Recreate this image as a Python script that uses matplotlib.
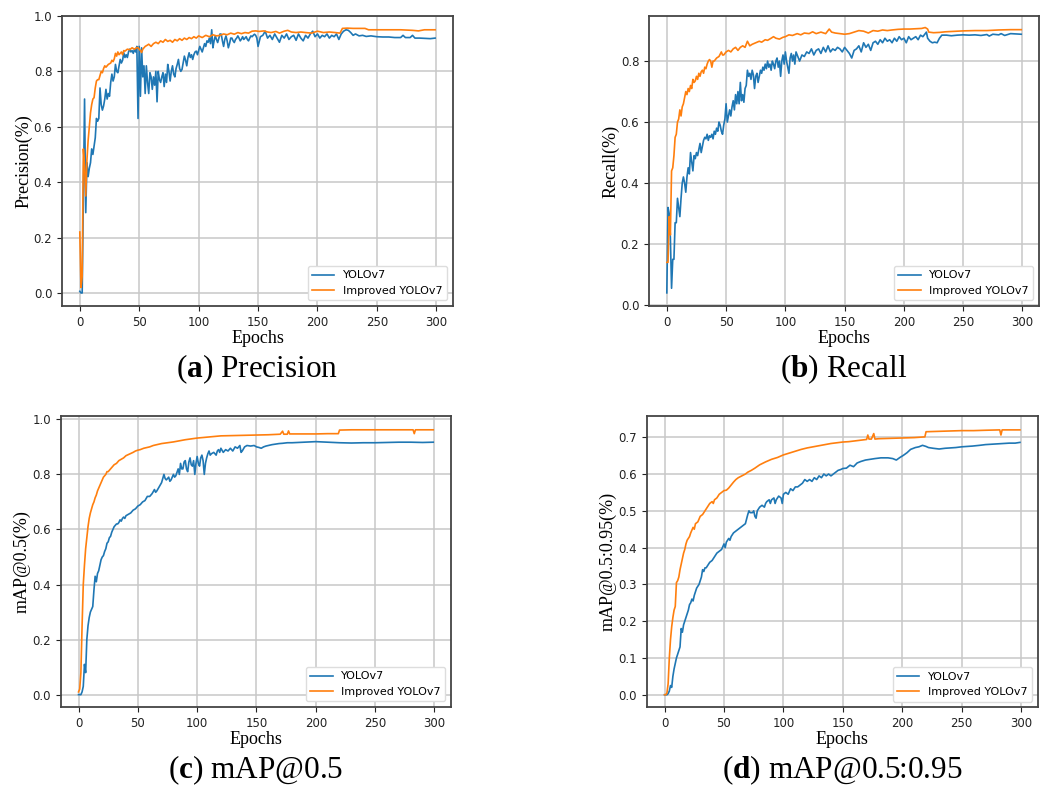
import matplotlib
matplotlib.use("Agg")
import matplotlib.pyplot as plt

plt.rcParams["mathtext.fontset"] = "custom"
plt.rcParams["mathtext.rm"] = "Liberation Serif"
plt.rcParams["mathtext.bf"] = "Liberation Serif:bold"

BLUE = "#1f77b4"
ORANGE = "#ff7f0e"
SERIF = "Liberation Serif"

# (epoch, value) pairs for each training curve
prec_v7 = [
    (0, 0.006), (1, 0.0), (2, 0.0), (3, 0.35), (4, 0.70), (5, 0.29), (6, 0.47), (7, 0.42), (8, 0.45), (9, 0.47),
    (10, 0.52), (11, 0.50), (12, 0.53), (13, 0.56), (14, 0.63), (15, 0.62), (16, 0.63), (17, 0.74), (18, 0.68),
    (19, 0.66), (20, 0.675), (21, 0.70), (22, 0.735), (23, 0.70), (24, 0.72), (25, 0.71), (26, 0.76), (27, 0.79),
    (28, 0.765), (29, 0.78), (30, 0.825), (31, 0.80), (32, 0.795), (33, 0.82), (34, 0.843), (35, 0.83), (36, 0.84),
    (37, 0.867), (38, 0.85), (39, 0.86), (40, 0.85), (41, 0.87), (42, 0.88), (43, 0.87), (44, 0.875), (45, 0.865),
    (46, 0.88), (47, 0.87), (48, 0.89), (49, 0.63), (50, 0.89), (51, 0.71), (52, 0.885), (53, 0.78), (54, 0.82),
    (55, 0.72), (56, 0.82), (57, 0.76), (58, 0.72), (59, 0.795), (60, 0.78), (61, 0.735), (62, 0.78), (63, 0.75),
    (64, 0.80), (65, 0.69), (66, 0.80), (67, 0.77), (68, 0.76), (69, 0.78), (70, 0.795), (71, 0.745), (72, 0.79),
    (73, 0.76), (74, 0.825), (75, 0.80), (76, 0.765), (77, 0.80), (78, 0.82), (79, 0.79), (80, 0.78), (81, 0.81),
    (82, 0.825), (83, 0.843), (84, 0.81), (85, 0.80), (86, 0.807), (87, 0.83), (88, 0.855), (89, 0.84), (90, 0.82),
    (91, 0.85), (92, 0.867), (93, 0.85), (94, 0.86), (95, 0.843), (96, 0.86), (97, 0.87), (98, 0.873), (99, 0.86),
    (100, 0.875), (101, 0.89), (102, 0.88), (103, 0.87), (104, 0.885), (105, 0.90), (106, 0.89), (107, 0.91),
    (108, 0.905), (109, 0.92), (110, 0.90), (111, 0.95), (112, 0.885), (113, 0.91), (114, 0.928), (115, 0.915),
    (116, 0.904), (117, 0.92), (118, 0.935), (119, 0.934), (120, 0.91), (121, 0.89), (122, 0.915), (123, 0.928),
    (124, 0.91), (125, 0.885), (126, 0.90), (127, 0.92), (128, 0.92), (129, 0.91), (130, 0.904), (131, 0.915),
    (132, 0.92), (133, 0.928), (134, 0.92), (135, 0.91), (136, 0.916), (137, 0.925), (138, 0.915), (139, 0.92),
    (140, 0.925), (141, 0.915), (142, 0.91), (143, 0.92), (144, 0.928), (145, 0.925), (146, 0.93), (147, 0.934),
    (148, 0.93), (149, 0.92), (150, 0.89), (152, 0.925), (154, 0.93), (156, 0.945), (158, 0.92), (160, 0.93),
    (162, 0.915), (164, 0.935), (166, 0.92), (168, 0.905), (170, 0.93), (172, 0.92), (174, 0.935), (176, 0.915),
    (178, 0.925), (180, 0.93), (182, 0.912), (184, 0.935), (186, 0.92), (188, 0.91), (190, 0.93), (192, 0.92),
    (194, 0.935), (196, 0.945), (198, 0.925), (200, 0.935), (202, 0.92), (204, 0.93), (206, 0.925), (208, 0.935),
    (210, 0.92), (212, 0.93), (214, 0.925), (216, 0.935), (218, 0.915), (220, 0.935), (222, 0.945), (224, 0.95),
    (226, 0.948), (228, 0.94), (230, 0.93), (232, 0.935), (235, 0.928), (238, 0.93), (241, 0.926), (245, 0.928),
    (250, 0.925), (255, 0.924), (260, 0.924), (265, 0.922), (270, 0.922), (272, 0.93), (274, 0.922), (278, 0.922),
    (280, 0.93), (282, 0.92), (286, 0.92), (290, 0.919), (295, 0.918), (299, 0.92),
]
prec_imp = [
    (0, 0.22), (1, 0.02), (2, 0.06), (3, 0.52), (4, 0.46), (5, 0.35), (6, 0.48), (7, 0.55), (8, 0.60), (9, 0.65),
    (10, 0.68), (11, 0.70), (12, 0.705), (13, 0.74), (14, 0.765), (15, 0.77), (16, 0.77), (17, 0.785), (18, 0.80),
    (19, 0.795), (20, 0.81), (21, 0.82), (22, 0.815), (24, 0.825), (26, 0.83), (27, 0.84), (28, 0.835), (29, 0.845),
    (30, 0.865), (31, 0.855), (32, 0.87), (33, 0.86), (34, 0.865), (35, 0.87), (36, 0.86), (37, 0.875), (38, 0.873),
    (40, 0.88), (42, 0.878), (44, 0.885), (46, 0.88), (48, 0.886), (49, 0.885), (50, 0.88), (51, 0.875), (52, 0.868),
    (53, 0.88), (55, 0.89), (57, 0.895), (58, 0.898), (60, 0.89), (62, 0.90), (64, 0.905), (66, 0.90), (68, 0.91),
    (70, 0.905), (72, 0.915), (74, 0.908), (76, 0.912), (78, 0.905), (80, 0.915), (82, 0.91), (84, 0.918),
    (86, 0.912), (88, 0.92), (90, 0.915), (92, 0.922), (94, 0.918), (96, 0.925), (98, 0.92), (100, 0.928),
    (103, 0.922), (106, 0.93), (109, 0.925), (112, 0.932), (115, 0.928), (118, 0.93), (121, 0.935), (124, 0.932),
    (127, 0.938), (130, 0.934), (133, 0.94), (136, 0.936), (139, 0.94), (142, 0.938), (145, 0.945), (148, 0.946),
    (151, 0.944), (155, 0.946), (158, 0.942), (161, 0.94), (165, 0.944), (168, 0.938), (172, 0.945), (175, 0.948),
    (178, 0.942), (182, 0.94), (186, 0.942), (190, 0.94), (195, 0.938), (200, 0.945), (205, 0.94), (210, 0.942),
    (215, 0.94), (219, 0.938), (221, 0.955), (225, 0.956), (230, 0.955), (235, 0.955), (240, 0.955), (243, 0.95),
    (250, 0.95), (260, 0.95), (270, 0.95), (280, 0.948), (285, 0.946), (290, 0.95), (299, 0.95),
]

rec_v7 = [
    (0, 0.04), (1, 0.32), (2, 0.30), (3, 0.22), (4, 0.055), (5, 0.15), (6, 0.15), (7, 0.27), (8, 0.27), (9, 0.35),
    (10, 0.32), (11, 0.29), (12, 0.35), (13, 0.40), (14, 0.42), (15, 0.40), (16, 0.37), (17, 0.42), (18, 0.45),
    (19, 0.43), (20, 0.50), (21, 0.47), (22, 0.44), (23, 0.49), (24, 0.48), (25, 0.50), (26, 0.49), (27, 0.51),
    (28, 0.53), (29, 0.50), (30, 0.52), (31, 0.54), (32, 0.55), (33, 0.545), (34, 0.56), (35, 0.54), (36, 0.555),
    (37, 0.55), (38, 0.56), (39, 0.545), (40, 0.57), (41, 0.56), (42, 0.58), (43, 0.57), (44, 0.60), (45, 0.59),
    (46, 0.57), (47, 0.56), (48, 0.59), (49, 0.61), (50, 0.66), (51, 0.60), (52, 0.62), (53, 0.64), (54, 0.62),
    (55, 0.65), (56, 0.67), (57, 0.64), (58, 0.69), (59, 0.66), (60, 0.70), (61, 0.66), (62, 0.73), (63, 0.67),
    (64, 0.69), (65, 0.665), (66, 0.71), (67, 0.72), (68, 0.77), (69, 0.75), (70, 0.76), (71, 0.74), (72, 0.77),
    (73, 0.755), (74, 0.71), (75, 0.75), (76, 0.76), (77, 0.73), (78, 0.75), (79, 0.77), (80, 0.76), (81, 0.78),
    (82, 0.77), (83, 0.79), (84, 0.775), (85, 0.80), (86, 0.78), (87, 0.79), (88, 0.77), (89, 0.80), (90, 0.79),
    (91, 0.775), (92, 0.80), (93, 0.81), (94, 0.78), (95, 0.80), (96, 0.75), (97, 0.80), (98, 0.82), (99, 0.79),
    (100, 0.83), (101, 0.80), (102, 0.78), (103, 0.76), (104, 0.81), (105, 0.825), (106, 0.80), (107, 0.82),
    (108, 0.79), (109, 0.83), (110, 0.82), (112, 0.80), (114, 0.82), (116, 0.815), (118, 0.83), (120, 0.825),
    (122, 0.84), (124, 0.82), (126, 0.835), (128, 0.84), (130, 0.825), (132, 0.845), (134, 0.83), (136, 0.85),
    (138, 0.83), (140, 0.84), (142, 0.835), (144, 0.845), (146, 0.84), (148, 0.83), (150, 0.845), (152, 0.835),
    (154, 0.825), (156, 0.81), (158, 0.835), (160, 0.84), (162, 0.85), (164, 0.83), (166, 0.86), (168, 0.845),
    (170, 0.855), (172, 0.835), (174, 0.86), (176, 0.865), (178, 0.855), (180, 0.87), (182, 0.86), (184, 0.875),
    (186, 0.865), (188, 0.87), (190, 0.86), (192, 0.875), (194, 0.865), (196, 0.88), (198, 0.87), (200, 0.875),
    (202, 0.86), (204, 0.88), (206, 0.87), (208, 0.875), (210, 0.88), (212, 0.87), (214, 0.885), (216, 0.88),
    (218, 0.89), (219, 0.895), (220, 0.875), (222, 0.865), (224, 0.86), (226, 0.862), (228, 0.86), (230, 0.875),
    (232, 0.885), (236, 0.885), (240, 0.883), (245, 0.885), (250, 0.886), (255, 0.885), (260, 0.886), (265, 0.884),
    (270, 0.887), (272, 0.882), (275, 0.888), (280, 0.886), (282, 0.89), (285, 0.884), (290, 0.89), (295, 0.889),
    (299, 0.888),
]
rec_imp = [
    (0, 0.14), (1, 0.14), (2, 0.29), (3, 0.23), (4, 0.44), (5, 0.45), (6, 0.49), (7, 0.55), (8, 0.56), (9, 0.60),
    (10, 0.61), (11, 0.64), (12, 0.62), (13, 0.65), (14, 0.66), (15, 0.68), (16, 0.70), (17, 0.69), (18, 0.71),
    (19, 0.70), (20, 0.72), (21, 0.71), (22, 0.74), (23, 0.73), (24, 0.735), (25, 0.75), (26, 0.74), (27, 0.76),
    (28, 0.75), (29, 0.765), (30, 0.77), (31, 0.76), (32, 0.78), (33, 0.775), (34, 0.79), (35, 0.80), (36, 0.805),
    (37, 0.80), (38, 0.78), (39, 0.80), (40, 0.80), (42, 0.81), (44, 0.815), (46, 0.83), (47, 0.82), (48, 0.82),
    (50, 0.83), (52, 0.835), (54, 0.83), (56, 0.84), (58, 0.845), (60, 0.835), (62, 0.845), (64, 0.85), (66, 0.845),
    (68, 0.865), (70, 0.85), (72, 0.855), (75, 0.86), (78, 0.865), (80, 0.862), (83, 0.87), (85, 0.868), (88, 0.875),
    (90, 0.88), (92, 0.875), (95, 0.872), (98, 0.878), (100, 0.88), (103, 0.886), (106, 0.884), (110, 0.89),
    (113, 0.886), (116, 0.892), (120, 0.89), (123, 0.896), (126, 0.89), (130, 0.895), (134, 0.89), (137, 0.905),
    (139, 0.895), (142, 0.892), (146, 0.89), (150, 0.888), (154, 0.89), (158, 0.895), (162, 0.90), (166, 0.898),
    (170, 0.892), (174, 0.90), (178, 0.898), (182, 0.902), (186, 0.90), (190, 0.902), (195, 0.904), (200, 0.905),
    (205, 0.905), (210, 0.906), (215, 0.907), (218, 0.91), (220, 0.905), (221, 0.895), (225, 0.893), (230, 0.894),
    (235, 0.896), (240, 0.897), (250, 0.899), (260, 0.90), (270, 0.90), (280, 0.902), (290, 0.903), (299, 0.903),
]

map50_v7 = [
    (0, 0.0), (1, 0.0), (2, 0.0), (3, 0.01), (4, 0.03), (5, 0.11), (6, 0.08), (7, 0.20), (8, 0.25), (9, 0.28),
    (10, 0.30), (11, 0.31), (12, 0.32), (13, 0.38), (14, 0.43), (15, 0.41), (16, 0.44), (17, 0.45), (18, 0.47),
    (19, 0.49), (20, 0.50), (21, 0.505), (22, 0.52), (23, 0.53), (24, 0.55), (25, 0.555), (26, 0.57), (27, 0.575),
    (28, 0.59), (29, 0.60), (30, 0.61), (31, 0.615), (32, 0.62), (33, 0.62), (34, 0.625), (35, 0.635), (36, 0.63),
    (37, 0.64), (38, 0.645), (39, 0.64), (40, 0.65), (42, 0.655), (44, 0.66), (46, 0.67), (48, 0.675), (50, 0.685),
    (52, 0.69), (54, 0.70), (56, 0.705), (58, 0.72), (60, 0.72), (62, 0.73), (64, 0.745), (65, 0.735), (66, 0.74),
    (68, 0.755), (70, 0.77), (72, 0.80), (73, 0.785), (74, 0.78), (76, 0.79), (77, 0.775), (78, 0.78), (80, 0.80),
    (81, 0.79), (82, 0.795), (84, 0.82), (85, 0.80), (86, 0.84), (87, 0.82), (88, 0.82), (89, 0.845), (90, 0.85),
    (91, 0.82), (92, 0.81), (93, 0.845), (94, 0.86), (95, 0.835), (96, 0.83), (97, 0.85), (98, 0.80), (99, 0.84),
    (100, 0.865), (101, 0.84), (102, 0.83), (103, 0.86), (104, 0.87), (105, 0.85), (106, 0.80), (107, 0.84),
    (108, 0.86), (109, 0.875), (110, 0.885), (111, 0.87), (112, 0.875), (114, 0.88), (116, 0.87), (117, 0.885),
    (118, 0.89), (119, 0.88), (120, 0.895), (122, 0.88), (124, 0.89), (126, 0.885), (128, 0.895), (130, 0.885),
    (132, 0.90), (134, 0.895), (136, 0.905), (137, 0.88), (138, 0.885), (140, 0.90), (142, 0.905), (145, 0.903),
    (148, 0.905), (150, 0.90), (152, 0.898), (154, 0.895), (156, 0.90), (158, 0.903), (160, 0.905), (163, 0.908),
    (166, 0.91), (169, 0.912), (172, 0.913), (176, 0.915), (180, 0.915), (185, 0.916), (190, 0.917), (195, 0.918),
    (200, 0.919), (205, 0.918), (210, 0.917), (215, 0.916), (220, 0.915), (230, 0.914), (240, 0.915), (250, 0.915),
    (260, 0.916), (270, 0.917), (280, 0.917), (290, 0.916), (299, 0.917),
]
map50_imp = [
    (0, 0.01), (1, 0.02), (2, 0.08), (3, 0.25), (4, 0.40), (5, 0.47), (6, 0.53), (7, 0.57), (8, 0.61), (9, 0.64),
    (10, 0.66), (11, 0.675), (12, 0.69), (13, 0.70), (14, 0.715), (15, 0.725), (16, 0.74), (17, 0.75), (18, 0.76),
    (19, 0.77), (20, 0.78), (21, 0.79), (22, 0.795), (23, 0.80), (24, 0.81), (25, 0.81), (26, 0.815), (28, 0.825),
    (30, 0.835), (32, 0.84), (34, 0.85), (36, 0.855), (38, 0.86), (40, 0.868), (42, 0.872), (44, 0.876), (46, 0.88),
    (48, 0.885), (50, 0.888), (52, 0.89), (55, 0.895), (58, 0.898), (60, 0.90), (63, 0.905), (66, 0.908),
    (70, 0.912), (75, 0.915), (80, 0.918), (85, 0.922), (90, 0.926), (95, 0.929), (100, 0.932), (105, 0.934),
    (110, 0.936), (115, 0.938), (120, 0.94), (130, 0.941), (140, 0.942), (150, 0.943), (160, 0.944), (170, 0.946),
    (172, 0.957), (173, 0.946), (176, 0.946), (177, 0.958), (178, 0.947), (190, 0.947), (200, 0.947), (210, 0.948),
    (219, 0.948), (220, 0.961), (230, 0.962), (240, 0.962), (250, 0.962), (260, 0.962), (270, 0.962), (282, 0.962),
    (283, 0.948), (284, 0.962), (290, 0.962), (299, 0.962),
]

map95_v7 = [
    (0, 0.0), (2, 0.0), (3, 0.003), (4, 0.01), (5, 0.025), (6, 0.02), (7, 0.05), (8, 0.07), (9, 0.085), (10, 0.10),
    (11, 0.11), (12, 0.12), (13, 0.13), (14, 0.18), (15, 0.17), (16, 0.19), (17, 0.20), (18, 0.21), (19, 0.22),
    (20, 0.23), (21, 0.245), (22, 0.25), (23, 0.26), (24, 0.255), (25, 0.27), (26, 0.28), (27, 0.29), (28, 0.295),
    (29, 0.30), (30, 0.31), (31, 0.32), (32, 0.34), (33, 0.335), (34, 0.345), (35, 0.345), (36, 0.35), (38, 0.36),
    (40, 0.365), (42, 0.375), (44, 0.385), (46, 0.39), (48, 0.395), (50, 0.41), (51, 0.40), (52, 0.415),
    (54, 0.425), (55, 0.42), (56, 0.43), (58, 0.44), (60, 0.445), (62, 0.45), (64, 0.455), (66, 0.46), (68, 0.465),
    (70, 0.49), (71, 0.50), (72, 0.495), (74, 0.495), (75, 0.50), (76, 0.485), (77, 0.48), (78, 0.50), (80, 0.51),
    (82, 0.515), (84, 0.51), (85, 0.52), (86, 0.525), (88, 0.53), (89, 0.52), (90, 0.53), (92, 0.535), (93, 0.52),
    (94, 0.53), (96, 0.54), (98, 0.535), (99, 0.52), (100, 0.545), (102, 0.55), (104, 0.545), (106, 0.56),
    (108, 0.555), (110, 0.565), (112, 0.565), (114, 0.57), (116, 0.575), (118, 0.585), (120, 0.58), (122, 0.585),
    (124, 0.58), (126, 0.59), (128, 0.585), (130, 0.595), (132, 0.59), (134, 0.60), (136, 0.595), (138, 0.60),
    (140, 0.595), (142, 0.60), (144, 0.605), (146, 0.61), (148, 0.612), (150, 0.615), (153, 0.616), (156, 0.624),
    (159, 0.62), (162, 0.63), (165, 0.634), (169, 0.638), (173, 0.64), (177, 0.642), (182, 0.644), (188, 0.644),
    (192, 0.642), (195, 0.638), (198, 0.645), (201, 0.651), (204, 0.658), (207, 0.667), (211, 0.672), (214, 0.674),
    (217, 0.678), (220, 0.675), (222, 0.672), (226, 0.67), (231, 0.668), (236, 0.67), (241, 0.671), (245, 0.672),
    (250, 0.674), (255, 0.675), (259, 0.676), (265, 0.678), (270, 0.68), (275, 0.681), (280, 0.682), (285, 0.683),
    (290, 0.684), (295, 0.684), (299, 0.686),
]
map95_imp = [
    (0, 0.0), (1, 0.0), (2, 0.005), (3, 0.03), (4, 0.10), (5, 0.15), (6, 0.185), (7, 0.21), (8, 0.23), (9, 0.24),
    (10, 0.305), (11, 0.31), (12, 0.32), (13, 0.34), (14, 0.355), (15, 0.37), (16, 0.385), (17, 0.395), (18, 0.41),
    (19, 0.42), (20, 0.425), (21, 0.43), (22, 0.44), (24, 0.455), (25, 0.45), (26, 0.465), (28, 0.47), (30, 0.485),
    (32, 0.49), (34, 0.50), (36, 0.51), (38, 0.52), (40, 0.525), (41, 0.52), (42, 0.53), (44, 0.535), (46, 0.545),
    (48, 0.55), (50, 0.555), (52, 0.556), (54, 0.562), (56, 0.57), (58, 0.578), (60, 0.585), (62, 0.59),
    (65, 0.595), (68, 0.60), (70, 0.605), (73, 0.61), (76, 0.616), (80, 0.625), (85, 0.633), (90, 0.64),
    (95, 0.645), (100, 0.652), (105, 0.657), (110, 0.662), (115, 0.667), (120, 0.671), (125, 0.674), (130, 0.677),
    (135, 0.68), (140, 0.683), (145, 0.685), (150, 0.687), (155, 0.688), (160, 0.69), (165, 0.692), (170, 0.694),
    (171, 0.706), (172, 0.695), (174, 0.695), (176, 0.71), (177, 0.695), (180, 0.696), (190, 0.697), (200, 0.698),
    (210, 0.699), (219, 0.701), (220, 0.715), (230, 0.716), (240, 0.717), (250, 0.718), (260, 0.718), (270, 0.719),
    (282, 0.72), (283, 0.706), (284, 0.72), (290, 0.72), (299, 0.72),
]

panels = [
    # axes rect, series pair, y label, caption, ylim, yticks
    ([0.0592, 0.6122, 0.3734, 0.3676], prec_v7, prec_imp, "Precision(%)",
     r"($\mathbf{a}$) Precision", (-0.047, 1.0), [0.0, 0.2, 0.4, 0.6, 0.8, 1.0]),
    ([0.6199, 0.6122, 0.3725, 0.3676], rec_v7, rec_imp, "Recall(%)",
     r"($\mathbf{b}$) Recall", (-0.003, 0.948), [0.0, 0.2, 0.4, 0.6, 0.8]),
    ([0.0580, 0.1039, 0.3728, 0.3688], map50_v7, map50_imp, "mAP@0.5(%)",
     r"($\mathbf{c}$) mAP@0.5", (-0.045, 1.012), [0.0, 0.2, 0.4, 0.6, 0.8, 1.0]),
    ([0.6177, 0.1036, 0.3735, 0.3688], map95_v7, map95_imp, "mAP@0.5:0.95(%)",
     r"($\mathbf{d}$) mAP@0.5:0.95", (-0.034, 0.757), [0.0, 0.1, 0.2, 0.3, 0.4, 0.5, 0.6, 0.7]),
]

fig = plt.figure(figsize=(10.47, 7.89), dpi=100)

for rect, base, improved, ylabel, caption, ylim, yticks in panels:
    ax = fig.add_axes(rect)
    ep, val = zip(*base)
    ax.plot(ep, val, color=BLUE, lw=1.2, label="YOLOv7")
    ep, val = zip(*improved)
    ax.plot(ep, val, color=ORANGE, lw=1.2, label="Improved YOLOv7")
    ax.set_xlim(-15, 314)
    ax.set_ylim(*ylim)
    ax.set_xticks([0, 50, 100, 150, 200, 250, 300])
    ax.set_yticks(yticks)
    ax.tick_params(labelsize=8.5, colors="#222222", length=3.5)
    ax.grid(True, color="#c8c8c8", lw=1.1)
    for s in ax.spines.values():
        s.set_color("#444444")
        s.set_linewidth(1.3)
    ax.set_xlabel("Epochs", fontfamily=SERIF, fontsize=13, labelpad=1)
    ax.set_ylabel(ylabel, fontfamily=SERIF, fontsize=13, labelpad=1)
    ax.legend(loc="lower right", fontsize=8, framealpha=1, edgecolor="#dddddd", fancybox=True)
    # panel caption under each plot
    cx = rect[0] + rect[2] / 2
    fig.text(cx, rect[1] - 0.08, caption, ha="center", va="center", fontsize=22.5, fontfamily=SERIF)

fig.savefig("out.png", dpi=100)
